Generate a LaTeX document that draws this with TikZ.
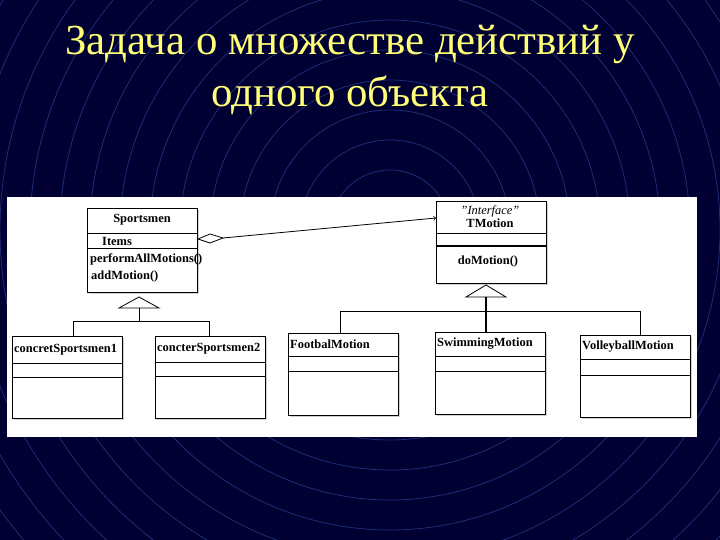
\documentclass[tikz,border=0pt]{standalone}
\usepackage{fontspec}
\setmainfont{Liberation Serif}
\usetikzlibrary{shadows}
\begin{document}
\begin{tikzpicture}[x=1bp,y=-1bp,
  cls/.style={draw=black,fill=white,line width=0.8bp,drop shadow={shadow xshift=2bp,shadow yshift=-2bp,fill=gray!70}},
  lbl/.style={font=\bfseries\fontsize{12.5}{13}\selectfont,inner sep=0pt},
  ln/.style={line width=0.8bp}]
\useasboundingbox (0,0) rectangle (720,540);
\fill[fill={rgb,255:red,0;green,0;blue,50}] (0,0) rectangle (720,540);
\begin{scope}
\clip (0,0) rectangle (720,540);
\foreach \r in {30,60,...,600}
  \draw[color={rgb,255:red,30;green,45;blue,120},line width=0.8bp] (390,230) circle[radius=\r];
\end{scope}
\node[text={rgb,255:red,255;green,255;blue,120},font=\fontsize{43}{52}\selectfont,align=center,inner sep=0pt] (title) at (350,70) {Задача о множестве действий у\\одного объекта};
\fill[white] (7,197) rectangle (697,437);
% Sportsmen
\draw[cls] (87,208) rectangle (197,292);
\draw[ln] (87,233) -- (197,233) (87,248) -- (197,248);
\node[lbl] (sp) at (142,220) {Sportsmen};
\node[lbl,anchor=west] (it) at (102,241) {Items};
\node[lbl,anchor=west] (m1) at (90,259) {performAllMotions()};
\node[lbl,anchor=west] (m2) at (91,277) {addMotion()};
% TMotion
\draw[cls] (436,201) rectangle (546,283);
\draw[ln] (436,233) -- (546,233);
\draw[line width=1.5bp] (436,246) -- (546,246);
\node[lbl,font=\itshape\fontsize{12.5}{13}\selectfont] (st) at (490,211) {"Interface"};
\node[lbl] (tm) at (490,223) {TMotion};
\node[lbl] (dm) at (488,262) {doMotion()};
% subclasses
\foreach \n/\x/\y/\a/\b/\t in {c1/12/336/363/377/concretSportsmen1,c2/155/336/362/376/concterSportsmen2,fm/288/333/356/371/FootbalMotion,sm/435/332/356/371/SwimmingMotion,vm/580/335/359/375/VolleyballMotion}{
  \draw[cls] (\x,\y) rectangle ++(110,82);
  \draw[ln] (\x,\a) -- ++(110,0) (\x,\b) -- ++(110,0);
  \node[lbl,anchor=west] (\n) at (\x+2,{(\y+\a)/2}) {\t};
}
% inheritance Sportsmen
\coordinate (s1) at (139,297);
\draw[ln,fill=white] (s1) -- (159,308) -- (119,308) -- cycle;
\draw[ln] (139,308) -- (139,321) (73,321) -- (209,321) (73,321) -- (73,336) (209,321) -- (209,336);
% inheritance TMotion
\coordinate (t1) at (486,285);
\draw[ln,fill=white] (t1) -- (506,297) -- (466,297) -- cycle;
\draw[line width=1.5bp] (486,297) -- (486,332);
\draw[ln] (340,311) -- (640,311) (340,311) -- (340,333) (640,311) -- (640,335);
% aggregation
\coordinate (d0) at (198,239);
\draw[ln,fill=white] (d0) -- (210,234) -- (223,238) -- (210,243) -- cycle;
\draw[ln,->] (223,238) -- (436,218);
\end{tikzpicture}
\end{document}
